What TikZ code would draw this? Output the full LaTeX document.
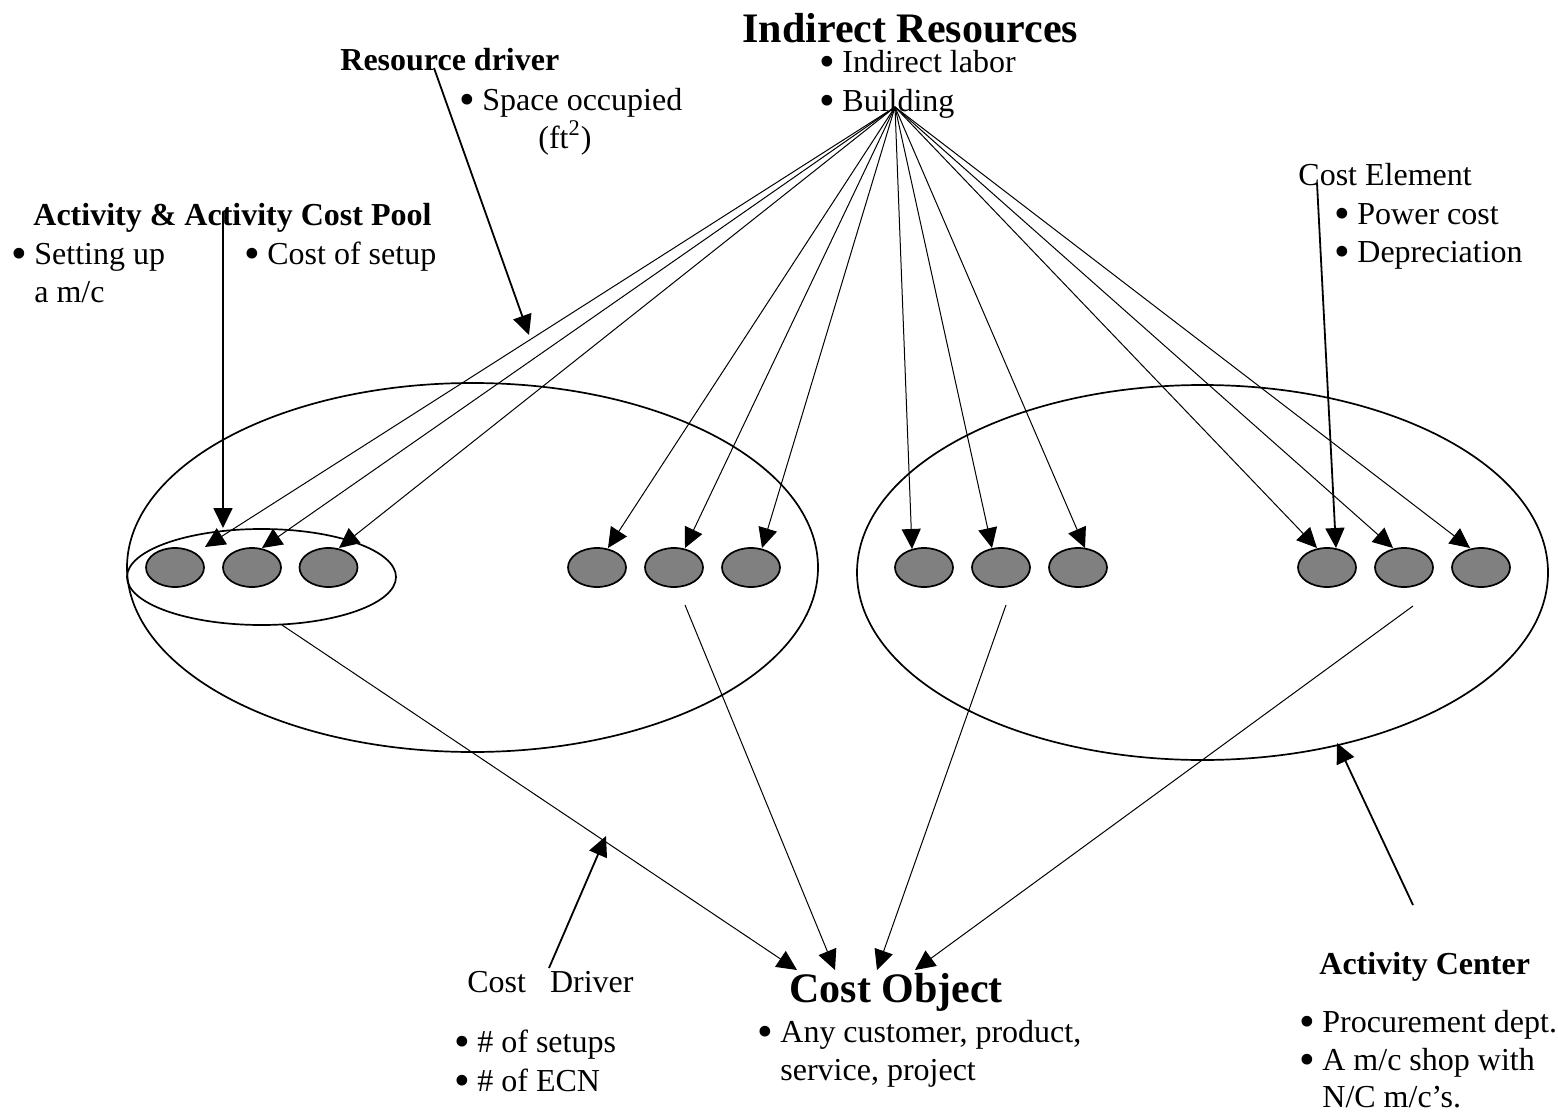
\documentclass[tikz,border=0pt]{standalone}
\usepackage{fontspec}
\setmainfont{Liberation Serif}
\usetikzlibrary{arrows.meta,shapes.geometric}
% round list bullet followed by a fixed gap
\newcommand\bul{\makebox[11pt][l]{\hspace*{-0.6pt}\smash{\raisebox{-0.12em}{\scalebox{1.4}{\textbullet}}}}}
\newcommand\ind{\hspace*{11pt}}
\begin{document}
\begin{tikzpicture}[x=0.5pt,y=-0.5pt,
  txt/.style={inner sep=0pt,anchor=base west,yshift=-1.25pt,font=\fontsize{16}{19.3}\selectfont},
  hd/.style={inner sep=0pt,anchor=base west,yshift=-1.25pt,font=\fontsize{16}{19.3}\selectfont\bfseries},
  big/.style={inner sep=0pt,anchor=base west,yshift=-1.25pt,font=\fontsize{21}{25}\selectfont\bfseries},
  actcenter/.style={draw,ellipse,line width=0.85pt,inner sep=0pt},
  pool/.style={draw,ellipse,fill=gray,line width=0.85pt,inner sep=0pt,
    minimum width=29pt,minimum height=19.5pt},
  feed/.style={line width=0.5pt,-{Triangle[length=10pt,width=9.5pt]}},
  callout/.style={line width=0.9pt,-{Triangle[length=10pt,width=9.5pt]}},
]
\useasboundingbox (0,0) rectangle (1558,1113);

% activity centers
\node[actcenter,minimum width=345.5pt,minimum height=184.5pt] (acL) at (472.5,567.5) {};
\node[actcenter,minimum width=345.5pt,minimum height=187.5pt] (acR) at (1202.5,572.5) {};
\node[actcenter,minimum width=134.5pt,minimum height=48pt] (grp) at (261.5,577) {};

% activity cost pools
\foreach \n/\x in {a1/175,a2/252,a3/328.5,b1/597,b2/674,b3/751,
                   c1/924,c2/1001,c3/1078,d1/1327,d2/1404,d3/1481}
  \node[pool] (\n) at (\x,567.5) {};

% texts
\node[big] (res) at (742,40) {Indirect Resources};
\node[txt] (lab) at (820,70) {\bul Indirect labor};
\node[txt] (bld) at (820,109) {\bul Building};

\node[hd] (rd) at (340,68) {Resource driver};
\node[txt] (sp) at (460,108) {\bul Space occupied};
\node[txt] (ft) at (538,146) {(ft\textsuperscript{2})};

\node[hd] (acp) at (33,223) {Activity \& Activity Cost Pool};
\node[txt] (su) at (12,262) {\bul Setting up};
\node[txt] (su2) at (12,300) {\ind a m/c};
\node[txt] (cs) at (245,262) {\bul Cost of setup};

\node[txt] (ce) at (1298,183) {Cost Element};
\node[txt] (pc) at (1335,222) {\bul Power cost};
\node[txt] (dp) at (1335,260) {\bul Depreciation};

\node[txt] (cd) at (467,990) {Cost\hspace{12pt}Driver};
\node[txt] (cdl) at (455,1050) {\bul \# of setups};
\node[txt] (cdl2) at (455,1089) {\bul \# of ECN};

\node[big] (co) at (789,1000) {Cost Object};
\node[txt] (col) at (758,1040) {\bul Any customer, product,};
\node[txt] (col2) at (758,1078) {\ind service, project};

\node[hd] (acn) at (1319,972) {Activity Center};
\node[txt] (acl) at (1300,1030) {\bul Procurement dept.};
\node[txt] (acl2) at (1300,1068) {\bul A m/c shop with};
\node[txt] (acl3) at (1300,1105) {\ind N/C m/c’s.};

% resource hub and feed points
\coordinate (hub) at (895,107);
\coordinate (ta1) at (205,547);
\coordinate (ta2) at (262,548);
\coordinate (ta3) at (339,548);
\coordinate (tb1) at (608,548);
\coordinate (tb2) at (685,548);
\coordinate (tb3) at (762,548);
\coordinate (tc1) at (912,549);
\coordinate (tc2) at (992,548);
\coordinate (tc3) at (1085,548);
\coordinate (td1) at (1317,548);
\coordinate (td2) at (1393,548);
\coordinate (td3) at (1470,548);

\foreach \t in {ta1,ta2,ta3,tb1,tb2,tb3,tc1,tc2,tc3,td1,td2,td3}
  \draw[feed] (hub) -- (\t);

% flows into the cost object
\coordinate (s1) at (282,625);
\coordinate (s2) at (685,605);
\coordinate (s3) at (1006,605);
\coordinate (s4) at (1413,606);
\coordinate (o1) at (797,970);
\coordinate (o2) at (835,970);
\coordinate (o3) at (877,970);
\coordinate (o4) at (915,970);
\draw[feed] (s1) -- (o1);
\draw[feed] (s2) -- (o2);
\draw[feed] (s3) -- (o3);
\draw[feed] (s4) -- (o4);

% callouts
\coordinate (rdA) at (434,68);   \coordinate (rdB) at (529,335);
\coordinate (acpA) at (223,212); \coordinate (acpB) at (223,528);
\coordinate (ceA) at (1317,183); \coordinate (ceB) at (1336,548);
\coordinate (cdA) at (549,968);  \coordinate (cdB) at (606,836);
\coordinate (acA) at (1413,905); \coordinate (acB) at (1337,743);
\draw[callout] (rdA) -- (rdB);
\draw[callout] (acpA) -- (acpB);
\draw[callout] (ceA) -- (ceB);
\draw[callout] (cdA) -- (cdB);
\draw[callout] (acA) -- (acB);
\end{tikzpicture}
\end{document}
